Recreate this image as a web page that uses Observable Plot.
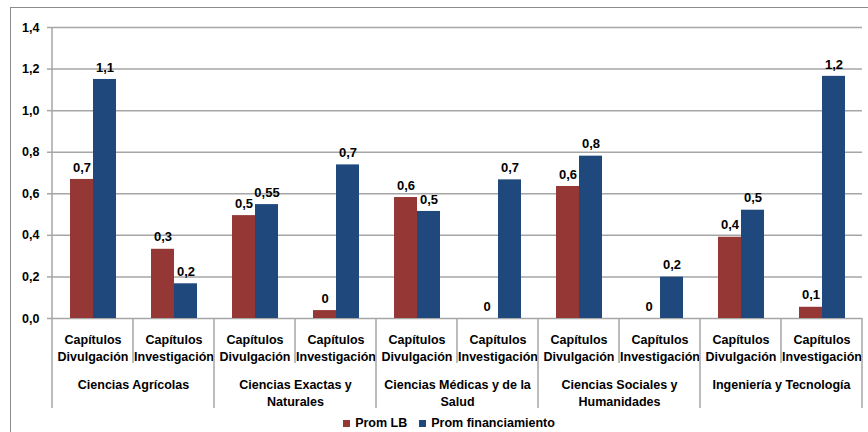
<!DOCTYPE html>
<html><head><meta charset="utf-8">
<script src="https://cdn.jsdelivr.net/npm/d3@7"></script>
<script src="https://cdn.jsdelivr.net/npm/@observablehq/plot@0.6"></script>
<style>
html,body{margin:0;padding:0;overflow:hidden;background:#fff;width:868px;height:432px;}
body{font-family:"Liberation Sans",Arial,sans-serif;position:relative;}
#frame{position:absolute;left:10px;top:7px;width:900px;height:500px;border:1.5px solid #8c8c8c;box-sizing:border-box;z-index:5;pointer-events:none;}
#chart{position:absolute;left:0;top:0;}
#legend{position:absolute;top:414px;left:0;width:868px;height:18px;display:flex;justify-content:center;align-items:center;font-weight:bold;font-size:12.5px;color:#000;padding-left:30px;box-sizing:border-box;}
#legend .item{display:flex;align-items:center;margin:0 6px;}
#legend .sw{width:7px;height:7px;margin-right:5px;display:inline-block;}
</style>
</head><body>
<div id="chart"></div>
<div id="legend"></div>
<div id="frame"></div>
<script>
const groups = ["Ciencias Agrícolas", "Ciencias Exactas y\nNaturales", "Ciencias Médicas y de la\nSalud", "Ciencias Sociales y\nHumanidades", "Ingeniería y Tecnología"];
const types = ["Capítulos\nDivulgación", "Capítulos\nInvestigación"];
const series = ["Prom LB", "Prom financiamiento"];
const colors = ["#953735", "#1f497d"];
const promLB  = [0.669, 0.333, 0.495, 0.038, 0.582, 0, 0.635, 0, 0.391, 0.054];
const promFin = [1.15, 0.167, 0.548, 0.739, 0.515, 0.667, 0.781, 0.199, 0.521, 1.165];
const labelsLB  = ["0,7", "0,3", "0,5", "0", "0,6", "0", "0,6", "0", "0,4", "0,1"];
const labelsFin = ["1,1", "0,2", "0,55", "0,7", "0,5", "0,7", "0,8", "0,2", "0,5", "1,2"];
const yTicks = [0, 0.2, 0.4, 0.6, 0.8, 1.0, 1.2, 1.4];

const rows = [];
d3.range(10).forEach(i => {
  rows.push({key: i, series: series[0], value: promLB[i], label: labelsLB[i]});
  rows.push({key: i, series: series[1], value: promFin[i], label: labelsFin[i]});
});
const groupRows = groups.map((g, j) => ({key: j * 2, group: g}));

const grid = "#a6a6a6";
const plot = Plot.plot({
  width: 868, height: 414,
  marginLeft: 51, marginRight: 5, marginTop: 27, marginBottom: 96,
  style: {fontFamily: "'Liberation Sans', Arial, sans-serif", fontSize: "12.5px", fontWeight: "bold", color: "#000", background: "transparent", overflow: "visible"},
  fx: {domain: d3.range(10), padding: 0, label: null, axis: null},
  x: {domain: series, paddingInner: 0, paddingOuter: 0.72, axis: null},
  y: {domain: [0, 1.4], label: null},
  color: {domain: series, range: colors},
  marks: [
    Plot.gridY(yTicks, {stroke: grid, strokeOpacity: 1, strokeWidth: 1.5}),
    Plot.axisY(yTicks, {tickSize: 5, tickPadding: 8, stroke: grid, strokeWidth: 1.5, tickFormat: d => d.toFixed(1).replace(".", ","), label: null}),
    Plot.barY(rows, {fx: "key", x: "series", y: "value", fill: "series"}),
    Plot.text(rows, {fx: "key", x: "series", y: "value", text: "label", dy: -12, fill: "#000", fontSize: 13}),
    Plot.axisFx({anchor: "bottom", tickSize: 0, tickPadding: 13, tickFormat: i => types[i % 2], lineHeight: 1.38, label: null}),
    Plot.text(groupRows, {fx: "key", text: "group", frameAnchor: "bottom-right", textAnchor: "middle", lineAnchor: "top", dy: 58, lineHeight: 1.38, fill: "#000"})
  ]
});
document.getElementById("chart").appendChild(plot);

// axis line and category separators, positioned through the plot's scales
const sx = plot.scale("fx"), sy = plot.scale("y");
const svg = d3.select(plot);
const y0 = sy.apply(0), yTop = sy.apply(1.4);
const g = svg.append("g").attr("stroke", grid).attr("stroke-width", 1.5);
const left = sx.apply(0);
g.append("line").attr("x1", left).attr("x2", left).attr("y1", yTop).attr("y2", y0);
d3.range(11).forEach(i => {
  const xx = i < 10 ? sx.apply(i) : sx.apply(9) + sx.bandwidth;
  g.append("line").attr("x1", xx).attr("x2", xx).attr("y1", y0).attr("y2", y0 + (i % 2 === 0 ? 90 : 45));
});

const lg = d3.select("#legend");
series.forEach((s, i) => {
  const it = lg.append("div").attr("class", "item");
  it.append("span").attr("class", "sw").style("background", colors[i]);
  it.append("span").text(s);
});
</script>
</body></html>
